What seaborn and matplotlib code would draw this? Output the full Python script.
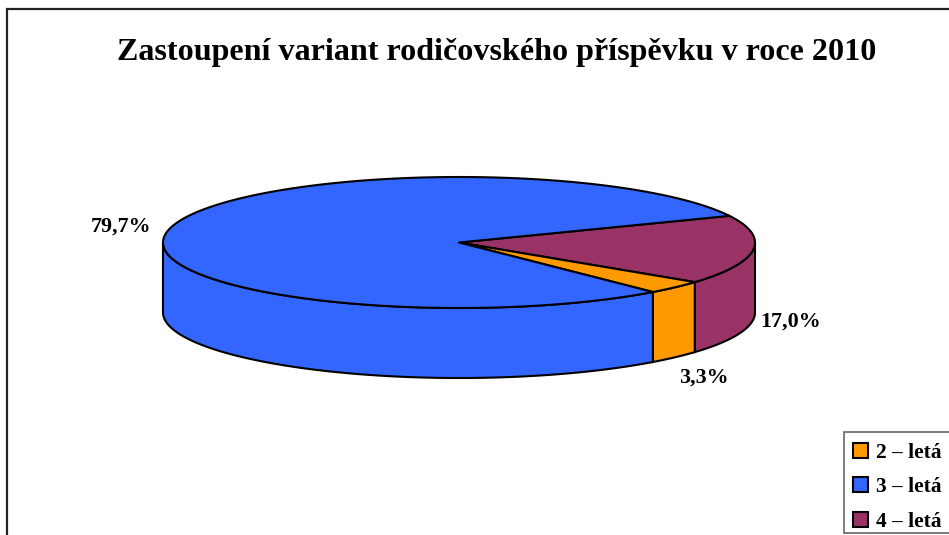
import numpy as np
import pandas as pd
import seaborn as sns
import matplotlib.pyplot as plt
from matplotlib.patches import Patch, Rectangle

title = 'Zastoupení variant rodičovského příspěvku v roce 2010'
# clockwise order round the pie, starting from the blue/maroon edge
labels = ['4 – letá', '2 – letá', '3 – letá']
values = [17.0, 3.3, 79.7]
value_labels = ['17,0%', '3,3%', '79,7%']
colors = ['#993366', '#FF9900', '#3366FF']
legend_order = ['2 – letá', '3 – letá', '4 – letá']

sns.set_theme(style='white')
plt.rcParams['font.family'] = ['Liberation Serif', 'DejaVu Serif']
plt.rcParams['font.weight'] = 'bold'

df = pd.DataFrame({'label': labels, 'value': values, 'color': colors})
df['sweep'] = df['value'] / df['value'].sum() * 360
df['start'] = 24 - df['sweep'].cumsum().shift(fill_value=0)
df['end'] = df['start'] - df['sweep']

cx, cy, rx, ry, depth = 459, 242.5, 296, 65.5, 70
lw = 1.5


def arc(a0, a1):
    t = np.radians(np.linspace(a0, a1, 200))
    return cx + rx * np.cos(t), cy - ry * np.sin(t)


fig = plt.figure(figsize=(9.49, 5.35), dpi=100)
ax = fig.add_axes([0, 0, 1, 1])
ax.set_xlim(0, 949)
ax.set_ylim(535, 0)
ax.axis('off')

# chart frame, runs off the right and bottom of the crop
ax.plot([7.5, 7.5, 949], [535, 9, 9], color='#222222', lw=1.6, solid_joinstyle='miter')

# side walls: only the front half of the disc shows
for _, w in df.iterrows():
    hi = min(w['start'], 0)
    lo = max(w['end'], -180)
    if lo < hi:
        x, y = arc(lo, hi)
        ax.fill(np.r_[x, x[::-1]], np.r_[y, y[::-1] + depth],
                facecolor=w['color'], edgecolor='black', lw=lw, zorder=2)

# top faces
for _, w in df.iterrows():
    x, y = arc(w['end'], w['start'])
    ax.fill(np.r_[cx, x], np.r_[cy, y], facecolor=w['color'],
            edgecolor='black', lw=lw, joinstyle='round', zorder=3)

ax.text(496.5, 52.5, title, ha='center', va='center', fontsize=23.1, fontweight='bold', color='black')

label_pos = {'79,7%': (121, 227), '17,0%': (791, 322), '3,3%': (704, 378)}
for s in value_labels:
    ax.text(*label_pos[s], s, ha='center', va='center', fontsize=15.8, fontweight='bold', color='black')

# legend box drawn by hand, its bottom margin is tighter than its top one
ax.add_patch(Rectangle((844.5, 432), 120, 101, facecolor='white', edgecolor='#666666', lw=1.2, zorder=4))
color_of = dict(zip(labels, colors))
handles = [Patch(facecolor=color_of[s], edgecolor='black', lw=lw, label=s) for s in legend_order]
leg = ax.legend(handles=handles, loc='upper left', bbox_to_anchor=(844, 434),
                bbox_transform=ax.transData, borderaxespad=0, borderpad=0.4, frameon=False,
                handlelength=0.7, handleheight=0.7, handletextpad=0.37, labelspacing=0.67,
                prop={'family': 'Liberation Serif', 'weight': 'bold', 'size': 15.5})
leg.set_zorder(5)
for t in leg.get_texts():
    t.set_color('black')

fig.savefig('out.png', dpi=100)
